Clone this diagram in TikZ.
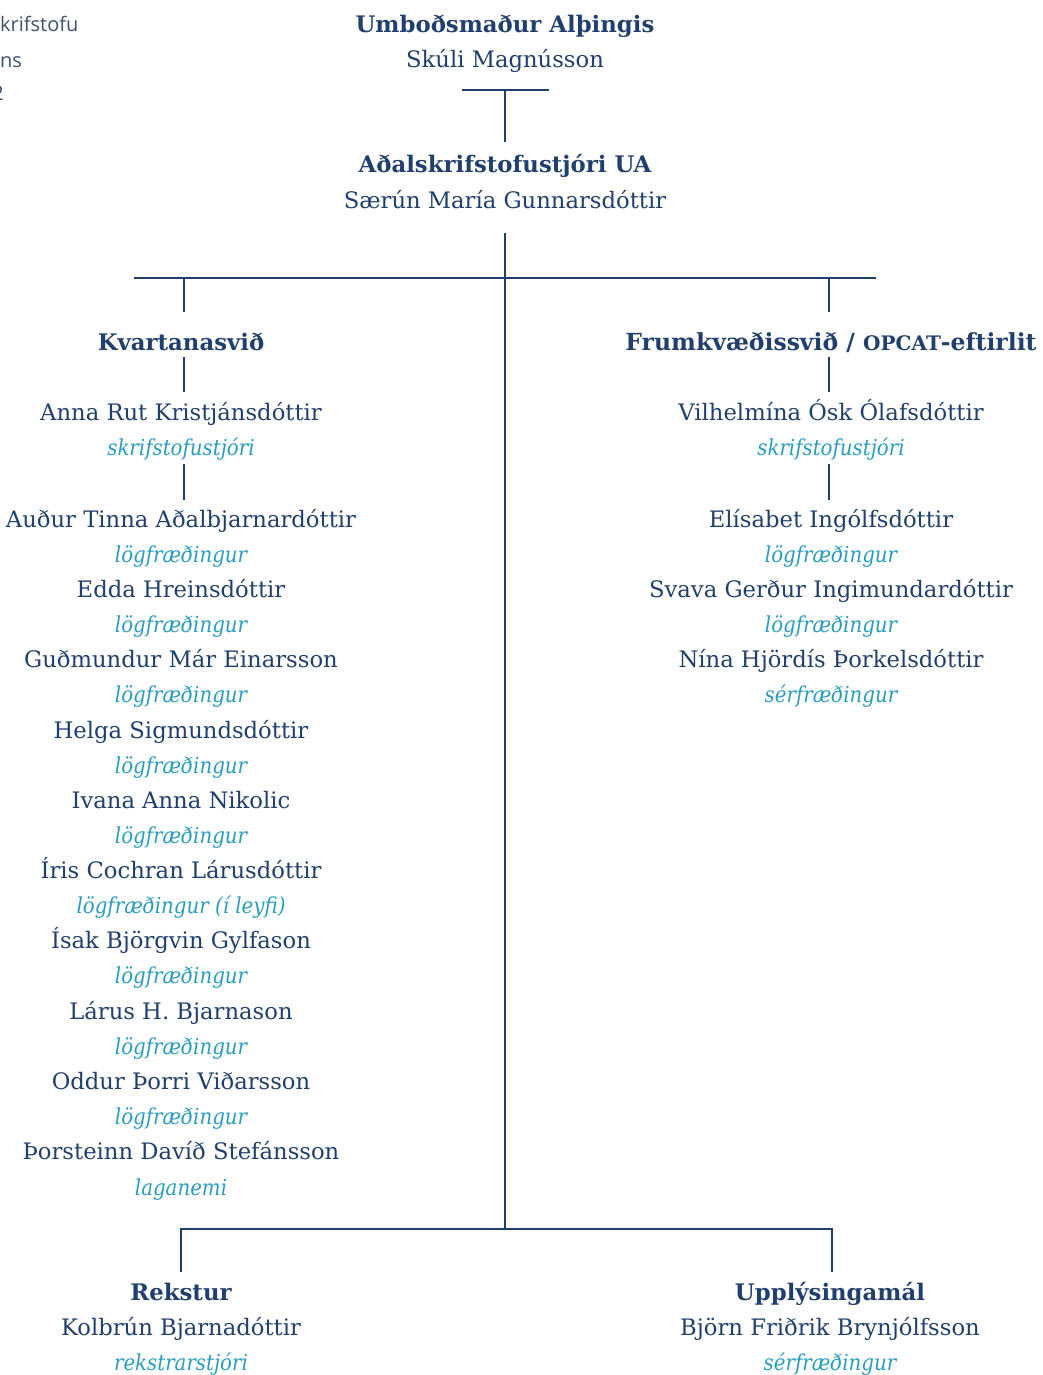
\documentclass[tikz,border=0pt]{standalone}
\usepackage{fontspec}
\setmainfont{DejaVu Serif}
\newfontfamily\condit{DejaVu Serif Condensed Italic}
\newfontfamily\grayfont{Open Sans}
\definecolor{navy}{HTML}{213F6E}
\definecolor{teal}{HTML}{2A9CC2}
\definecolor{graytext}{HTML}{3E5070}
\tikzset{
  head/.style={anchor=base, inner sep=0pt, text=navy, font=\bfseries\fontsize{22.8}{26}\selectfont},
  person/.style={anchor=base, inner sep=0pt, text=navy, font=\fontsize{22.7}{26}\selectfont},
  role/.style={anchor=base, inner sep=0pt, text=teal, font=\condit\fontsize{22}{26}\selectfont},
  edge/.style={draw=navy, line width=1.6pt},
  cut/.style={anchor=base west, inner sep=0pt, text=graytext, font=\grayfont\fontsize{20}{24}\selectfont},
}
\begin{document}
\begin{tikzpicture}[x=1pt,y=-1pt]
\useasboundingbox (0,0) rectangle (1042,1375);
\clip (0,0) rectangle (1042,1375);
% cut-off text at the left edge
\node[cut] (c1) at (0,32) {krifstofu};
\node[cut] (c2) at (0,68) {ns};
\node[cut, anchor=base east] (c3) at (4,101) {2};
% top
\node[head] (t1) at (505,33) {Umboðsmaður Alþingis};
\node[person] (t2) at (505,68) {Skúli Magnússon};
\coordinate (barL) at (462,90);
\coordinate (barR) at (549,90);
\coordinate (barM) at (505,90);
\node[head] (a1) at (505,173) {Aðalskrifstofustjóri UA};
\node[person] (a2) at (505,208) {Særún María Gunnarsdóttir};
\coordinate (a1top) at (505,142);
\coordinate (trunkTop) at (505,233);
\coordinate (trunkBot) at (505,1229);
\coordinate (hL) at (134,278);
\coordinate (hR) at (876,278);
\coordinate (dL) at (184,278);
\coordinate (dR) at (829,278);
\coordinate (dLb) at (184,312);
\coordinate (dRb) at (829,312);
% left branch
\node[head] (k) at (181,350) {Kvartanasvið};
\node[person] (k1) at (181,420) {Anna Rut Kristjánsdóttir};
\node[role] (k1r) at (181,455) {skrifstofustjóri};
\coordinate (kA) at (184,357);
\coordinate (kB) at (184,392);
\coordinate (kC) at (184,464);
\coordinate (kD) at (184,500);
\node[person] (p1) at (181,527) {Auður Tinna Aðalbjarnardóttir};
\node[role] (p1r) at (181,562) {lögfræðingur};
\node[person] (p2) at (181,597) {Edda Hreinsdóttir};
\node[role] (p2r) at (181,632) {lögfræðingur};
\node[person] (p3) at (181,667) {Guðmundur Már Einarsson};
\node[role] (p3r) at (181,702) {lögfræðingur};
\node[person] (p4) at (181,738) {Helga Sigmundsdóttir};
\node[role] (p4r) at (181,773) {lögfræðingur};
\node[person] (p5) at (181,808) {Ivana Anna Nikolic};
\node[role] (p5r) at (181,843) {lögfræðingur};
\node[person] (p6) at (181,878) {Íris Cochran Lárusdóttir};
\node[role] (p6r) at (181,913) {lögfræðingur (í leyfi)};
\node[person] (p7) at (181,948) {Ísak Björgvin Gylfason};
\node[role] (p7r) at (181,983) {lögfræðingur};
\node[person] (p8) at (181,1019) {Lárus H. Bjarnason};
\node[role] (p8r) at (181,1054) {lögfræðingur};
\node[person] (p9) at (181,1089) {Oddur Þorri Viðarsson};
\node[role] (p9r) at (181,1124) {lögfræðingur};
\node[person] (p10) at (181,1159) {Þorsteinn Davíð Stefánsson};
\node[role] (p10r) at (181,1195) {laganemi};
% right branch
\node[head] (f) at (831,350) {\fontsize{23.5}{26}\selectfont Frumkvæðissvið / {\fontsize{20}{24}\selectfont OPCAT}-eftirlit};
\node[person] (f1) at (831,420) {Vilhelmína Ósk Ólafsdóttir};
\node[role] (f1r) at (831,455) {skrifstofustjóri};
\coordinate (fA) at (829,357);
\coordinate (fB) at (829,392);
\coordinate (fC) at (829,464);
\coordinate (fD) at (829,500);
\node[person] (q1) at (831,527) {Elísabet Ingólfsdóttir};
\node[role] (q1r) at (831,562) {lögfræðingur};
\node[person] (q2) at (831,597) {Svava Gerður Ingimundardóttir};
\node[role] (q2r) at (831,632) {lögfræðingur};
\node[person] (q3) at (831,667) {Nína Hjördís Þorkelsdóttir};
\node[role] (q3r) at (831,702) {sérfræðingur};
% bottom
\coordinate (bL) at (181,1229);
\coordinate (bR) at (832,1229);
\coordinate (bLb) at (181,1272);
\coordinate (bRb) at (832,1272);
\node[head] (r) at (181,1300) {Rekstur};
\node[person] (r1) at (181,1335) {Kolbrún Bjarnadóttir};
\node[role] (r1r) at (181,1370) {rekstrarstjóri};
\node[head] (u) at (830,1300) {Upplýsingamál};
\node[person] (u1) at (830,1335) {Björn Friðrik Brynjólfsson};
\node[role] (u1r) at (830,1370) {sérfræðingur};
% connectors
\draw[edge] (barL) -- (barR);
\draw[edge] (barM) -- (a1top);
\draw[edge] (trunkTop) -- (trunkBot);
\draw[edge] (hL) -- (hR);
\draw[edge] (dL) -- (dLb);
\draw[edge] (dR) -- (dRb);
\draw[edge] (kA) -- (kB);
\draw[edge] (kC) -- (kD);
\draw[edge] (fA) -- (fB);
\draw[edge] (fC) -- (fD);
\draw[edge] (bLb) -- (bL) -- (bR) -- (bRb);
\end{tikzpicture}
\end{document}
